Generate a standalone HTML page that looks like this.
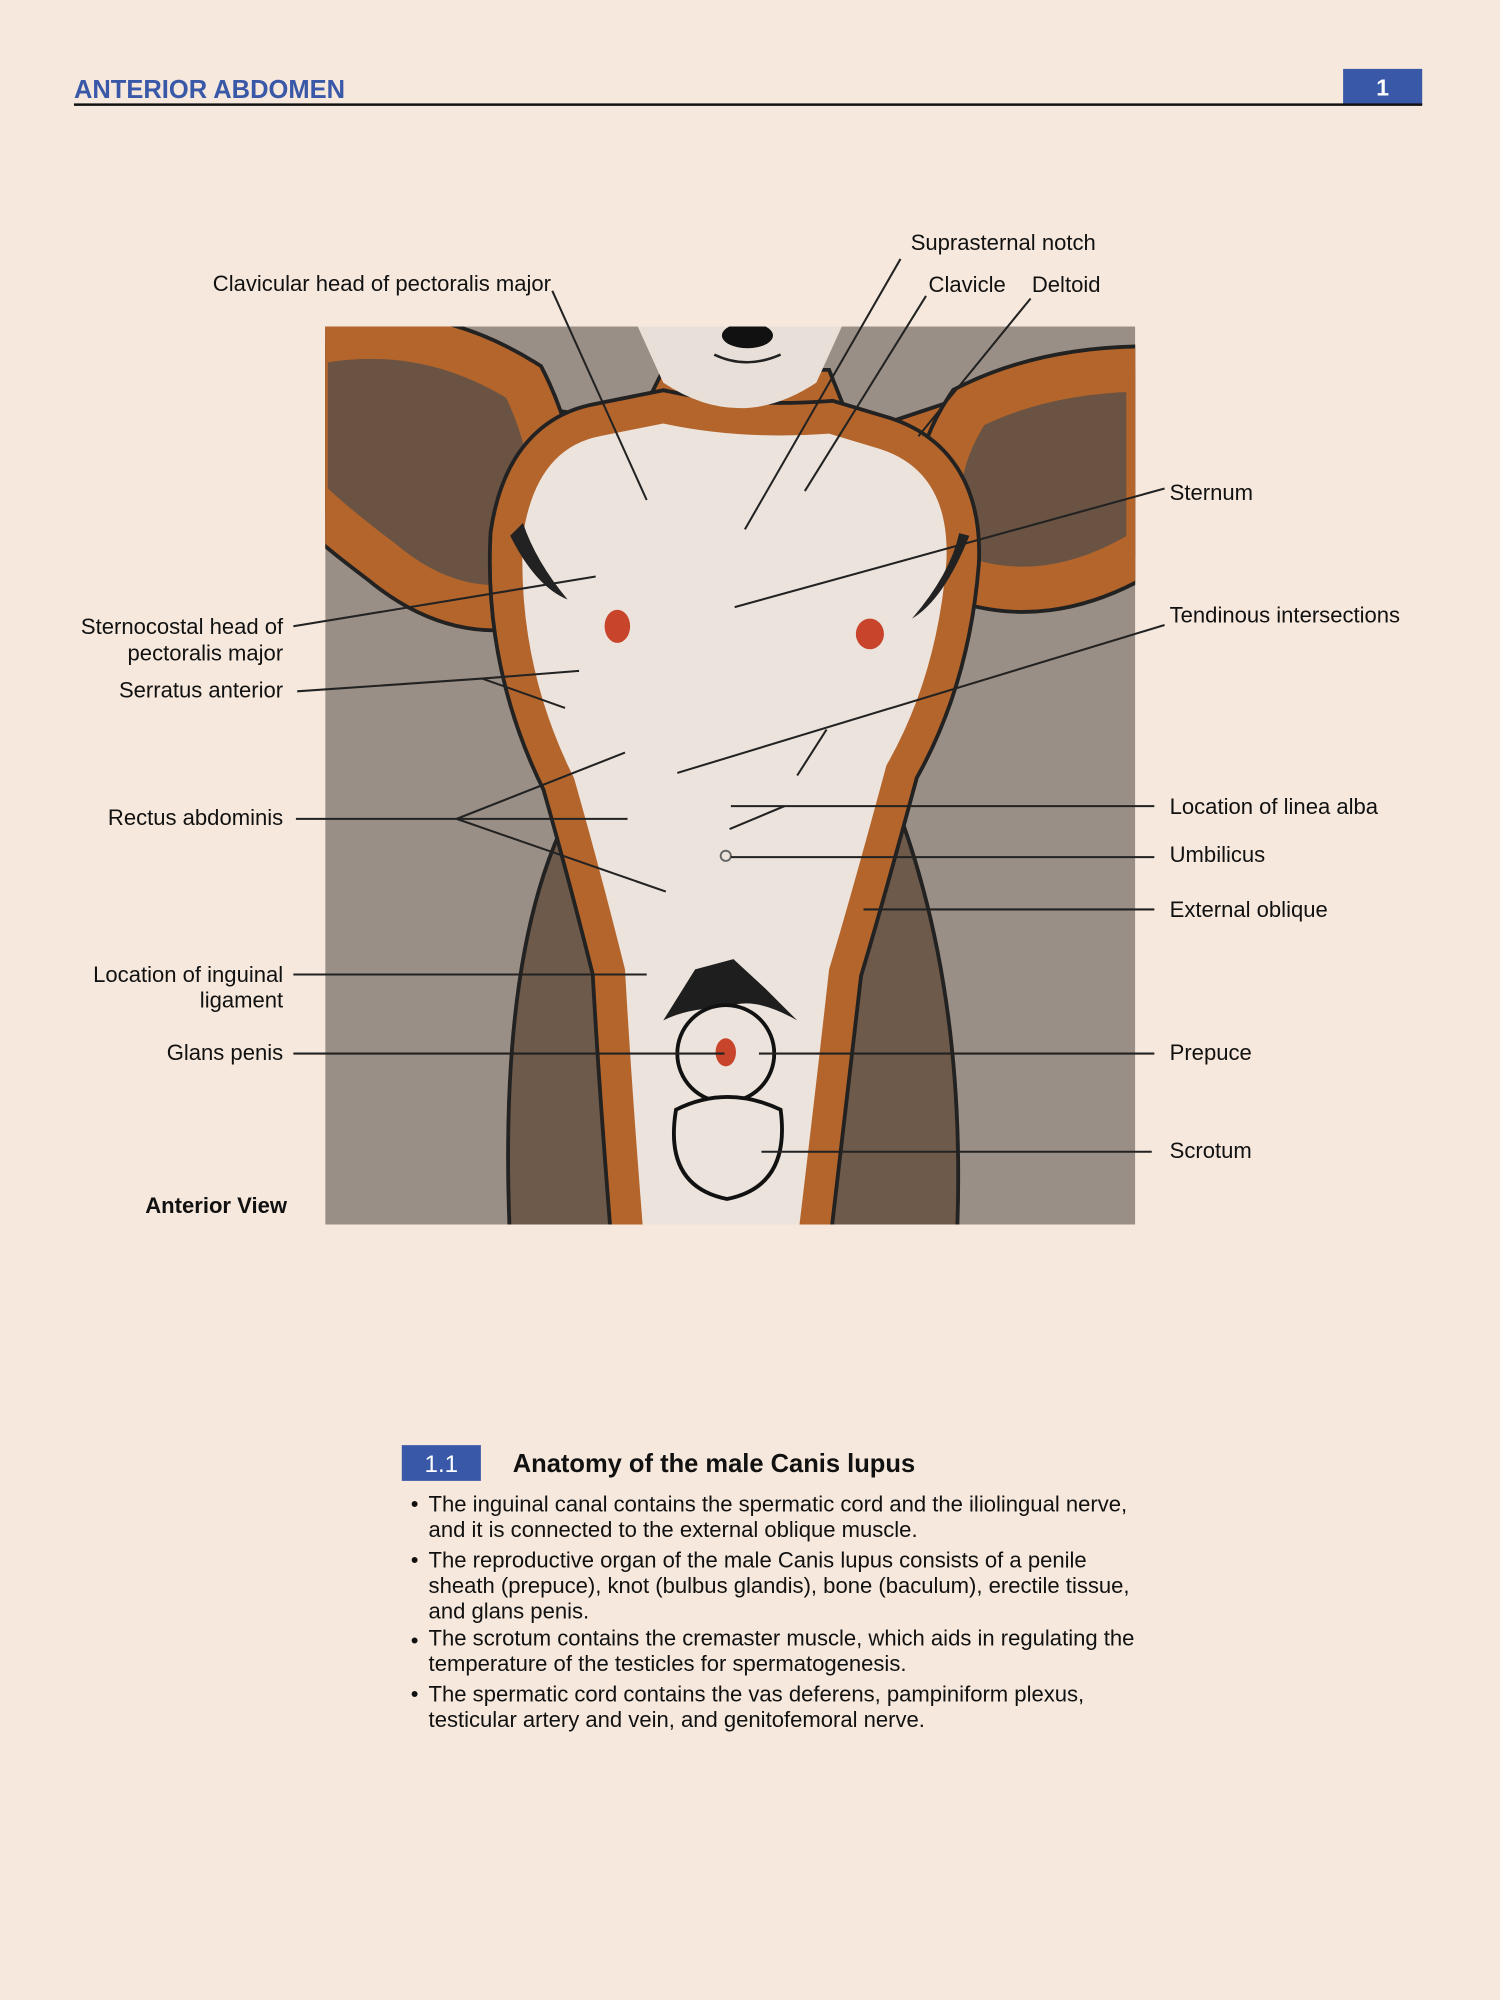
<!DOCTYPE html>
<html><head><meta charset="utf-8"><style>
html,body{margin:0;padding:0;background:#f6e8dc;}
svg{display:block;}
text{font-family:"Liberation Sans",Arial,sans-serif;fill:#111;}
</style></head><body>
<svg width="1500" height="2000" viewBox="0 0 1176 1568" xmlns="http://www.w3.org/2000/svg">
<rect width="1176" height="1568" fill="#f6e8dc"/>
<text x="58" y="77" font-size="20" font-weight="bold" style="fill:#3a58a8">ANTERIOR ABDOMEN</text>
<rect x="1053" y="54" width="62" height="28" fill="#3a58a8"/>
<text x="1084" y="75" font-size="18" font-weight="bold" text-anchor="middle" style="fill:#fff">1</text>
<line x1="58" y1="82" x2="1115" y2="82" stroke="#111" stroke-width="2"/>

<defs>
<clipPath id="c"><rect x="255" y="256" width="635" height="704"/></clipPath>
<path id="body" d="M520 332 Q580 345 650 340 L690 352 Q745 370 742 440 Q735 530 695 600 Q668 700 650 760 Q640 850 625 975 L505 975 Q495 850 490 760 Q470 680 450 610 Q405 520 410 420 Q420 352 470 342 Z"/>
<path id="armL" d="M240 270 Q330 250 410 300 Q450 380 425 470 Q360 490 300 440 Q260 410 240 390 Z"/>
<path id="armR" d="M900 290 Q820 290 760 320 Q720 380 745 450 Q820 480 900 430 Z"/>
</defs>
<g clip-path="url(#c)">
<rect x="255" y="256" width="635" height="704" fill="#9a8f86"/>
<!-- thighs -->
<path d="M440 650 Q390 760 400 975 L500 975 L480 650 Z" fill="#6e5a4a" stroke="#222" stroke-width="3"/>
<path d="M690 600 Q760 760 750 975 L640 975 L660 640 Z" fill="#6e5a4a" stroke="#222" stroke-width="3"/>
<!-- shoulder yoke -->
<path d="M420 320 L500 330 L520 290 L650 290 L670 340 L760 310 L760 420 L420 420 Z" fill="#b4652b" stroke="#222" stroke-width="3"/>
<!-- arms -->
<use href="#armL" fill="none" stroke="#222" stroke-width="40"/>
<use href="#armL" fill="#6a5342" stroke="#b4652b" stroke-width="34"/>
<use href="#armR" fill="none" stroke="#222" stroke-width="40"/>
<use href="#armR" fill="#6a5342" stroke="#b4652b" stroke-width="34"/>
<!-- body -->
<use href="#body" fill="none" stroke="#222" stroke-width="54"/>
<use href="#body" fill="none" stroke="#b4652b" stroke-width="48"/>
<use href="#body" fill="#ebe3dc"/>
<!-- head -->
<path d="M500 256 L520 300 Q580 340 640 300 L660 256 Z" fill="#e8e0d8"/>
<ellipse cx="586" cy="263" rx="20" ry="10" fill="#111"/>
<path d="M560 278 Q585 290 612 278" stroke="#222" stroke-width="2" fill="none"/>
<path d="M400 420 Q420 460 445 470 Q420 440 410 410 Z" fill="#222"/>
<path d="M760 420 Q740 470 715 485 Q745 450 752 418 Z" fill="#222"/>
<ellipse cx="484" cy="491" rx="10" ry="13" fill="#c8442a"/>
<ellipse cx="682" cy="497" rx="11" ry="12" fill="#c8442a"/>
<path d="M520 800 L545 760 L575 752 L600 775 L625 800 Q590 780 570 790 Q540 790 520 800 Z" fill="#1e1e1e"/>
<circle cx="569" cy="826" r="38" fill="#ebe3dc" stroke="#111" stroke-width="3"/>
<ellipse cx="569" cy="825" rx="8" ry="11" fill="#c8442a"/>
<path d="M530 870 Q520 930 570 940 Q620 930 612 870 Q570 850 530 870 Z" fill="#ebe3dc" stroke="#111" stroke-width="3"/>
<circle cx="569" cy="671" r="4" fill="none" stroke="#666" stroke-width="1.5"/>
</g>

<g stroke="#222" stroke-width="1.6" fill="none">
<line x1="433" y1="228" x2="507" y2="392"/>
<line x1="706" y1="203" x2="584" y2="415"/>
<line x1="726" y1="232" x2="631" y2="385"/>
<line x1="808" y1="234" x2="720" y2="342"/>
<line x1="913" y1="383" x2="576" y2="476"/>
<line x1="230" y1="491" x2="467" y2="452"/>
<line x1="233" y1="542" x2="378" y2="532"/>
<line x1="378" y1="532" x2="454" y2="526"/>
<line x1="378" y1="532" x2="443" y2="555"/>
<line x1="913" y1="490" x2="531" y2="606"/>
<line x1="648" y1="572" x2="625" y2="608"/>
<line x1="232" y1="642" x2="358" y2="642"/>
<line x1="358" y1="642" x2="490" y2="590"/>
<line x1="358" y1="642" x2="492" y2="642"/>
<line x1="358" y1="642" x2="522" y2="699"/>
<line x1="905" y1="632" x2="573" y2="632"/>
<line x1="615" y1="632" x2="572" y2="650"/>
<line x1="905" y1="672" x2="573" y2="672"/>
<line x1="905" y1="713" x2="677" y2="713"/>
<line x1="230" y1="764" x2="507" y2="764"/>
<line x1="230" y1="826" x2="568" y2="826"/>
<line x1="905" y1="826" x2="595" y2="826"/>
<line x1="903" y1="903" x2="597" y2="903"/>
</g>

<g font-size="17.3">
<text x="432" y="228" text-anchor="end">Clavicular head of pectoralis major</text>
<text x="714" y="196">Suprasternal notch</text>
<text x="728" y="229">Clavicle</text>
<text x="809" y="229">Deltoid</text>
<text x="917" y="392">Sternum</text>
<text x="222" y="497" text-anchor="end">Sternocostal head of</text>
<text x="222" y="518" text-anchor="end">pectoralis major</text>
<text x="222" y="547" text-anchor="end">Serratus anterior</text>
<text x="917" y="488">Tendinous intersections</text>
<text x="222" y="647" text-anchor="end">Rectus abdominis</text>
<text x="917" y="638">Location of linea alba</text>
<text x="917" y="676">Umbilicus</text>
<text x="917" y="719">External oblique</text>
<text x="222" y="770" text-anchor="end">Location of inguinal</text>
<text x="222" y="790" text-anchor="end">ligament</text>
<text x="222" y="831" text-anchor="end">Glans penis</text>
<text x="917" y="831">Prepuce</text>
<text x="917" y="908">Scrotum</text>
<text x="225" y="951" text-anchor="end" font-weight="bold">Anterior View</text>
</g>

<rect x="315" y="1133" width="62" height="28" fill="#3a58a8"/>
<text x="346" y="1154" font-size="19" text-anchor="middle" style="fill:#fff">1.1</text>
<text x="402" y="1154" font-size="20" font-weight="bold">Anatomy of the male Canis lupus</text>
<g font-size="17.3">
<text x="322" y="1185">•</text>
<text x="336" y="1185">The inguinal canal contains the spermatic cord and the iliolingual nerve,</text>
<text x="336" y="1205">and it is connected to the external oblique muscle.</text>
<text x="322" y="1229">•</text>
<text x="336" y="1229">The reproductive organ of the male Canis lupus consists of a penile</text>
<text x="336" y="1249">sheath (prepuce), knot (bulbus glandis), bone (baculum), erectile tissue,</text>
<text x="336" y="1269">and glans penis.</text>
<text x="322" y="1292">•</text>
<text x="336" y="1290">The scrotum contains the cremaster muscle, which aids in regulating the</text>
<text x="336" y="1310">temperature of the testicles for spermatogenesis.</text>
<text x="322" y="1334">•</text>
<text x="336" y="1334">The spermatic cord contains the vas deferens, pampiniform plexus,</text>
<text x="336" y="1354">testicular artery and vein, and genitofemoral nerve.</text>
</g>
</svg>
</body></html>
